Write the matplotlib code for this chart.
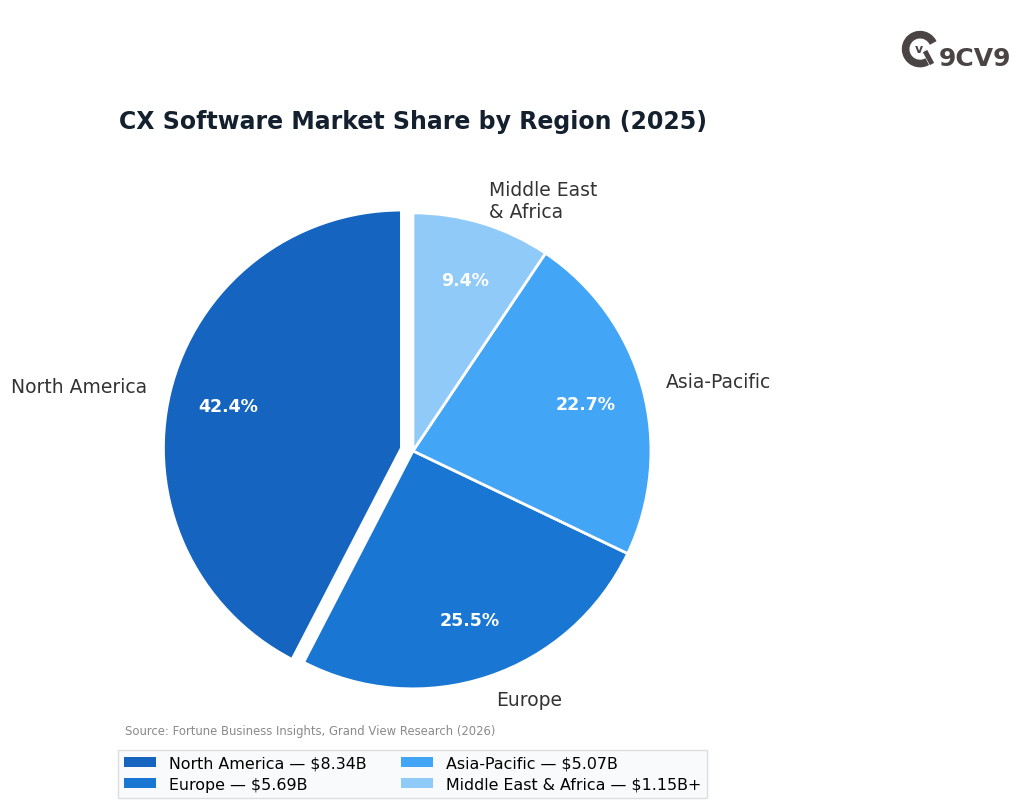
import matplotlib.pyplot as plt
from matplotlib.patches import Arc

plt.rcParams['font.family'] = ['DejaVu Sans']

regions = ["North America", "Europe", "Asia-Pacific", "Middle East\n& Africa"]
legend_names = ["North America", "Europe", "Asia-Pacific", "Middle East & Africa"]
shares = [42.4, 25.5, 22.7, 9.4]
market_size = ["$8.34B", "$5.69B", "$5.07B", "$1.15B+"]
colors = ["#1565C0", "#1976D2", "#42A5F5", "#90CAF9"]
explode = [0.05, 0, 0, 0]

fig = plt.figure(figsize=(10.24, 8.12), dpi=100)
ax = fig.add_axes([0.1128, 0.077, 0.581, 0.733])

wedges, texts, autotexts = ax.pie(
    shares, labels=regions, colors=colors, explode=explode,
    startangle=90, counterclock=True, autopct="%1.1f%%", pctdistance=0.75,
    labeldistance=1.1, wedgeprops={"edgecolor": "white", "linewidth": 2},
    textprops={"fontsize": 13.5, "color": "#333333"})
for t in autotexts:
    t.set_color("white")
    t.set_fontweight("bold")
    t.set_fontsize(12.5)

ax.set_title("CX Software Market Share by Region (2025)", fontsize=17,
             fontweight="bold", color="#14202e", pad=18)

fig.text(0.122, 0.099, "Source: Fortune Business Insights, Grand View Research (2026)",
         fontsize=8.4, color="#8a8a8a", ha="left", va="center")

handles = wedges
labels = [f"{n} \u2014 {v}" for n, v in zip(legend_names, market_size)]
leg = fig.legend(handles, labels, ncol=2, loc="center", bbox_to_anchor=(0.403, 0.0456),
                 fontsize=11.4, frameon=True, fancybox=False, handlelength=2.0,
                 handleheight=0.6, columnspacing=2.2, borderpad=0.4, labelspacing=0.38)
leg.get_frame().set_facecolor("#f8f9fb")
leg.get_frame().set_edgecolor("#d5d8dc")
for h in leg.legend_handles:
    h.set_edgecolor("none")

# logo
lax = fig.add_axes([0.879, 0.9138, 0.039, 0.049])
lax.set_xlim(-1, 1)
lax.set_ylim(-1, 1)
lax.set_aspect("equal")
lax.axis("off")
lax.add_patch(Arc((0, 0), 1.45, 1.45, theta1=25, theta2=300, lw=5.5, color="#4a4444"))
lax.plot([0.25, 0.6], [-0.1, -0.75], color="#4a4444", lw=3.5, solid_capstyle="butt")
lax.text(-0.05, 0.05, "v", fontsize=9, fontweight="bold", color="#4a4444", ha="center", va="center")
fig.text(0.917, 0.927, "9CV9", fontsize=18, fontweight="bold", color="#4a4444",
         ha="left", va="center")

fig.savefig("out.png", dpi=100, facecolor="white")
